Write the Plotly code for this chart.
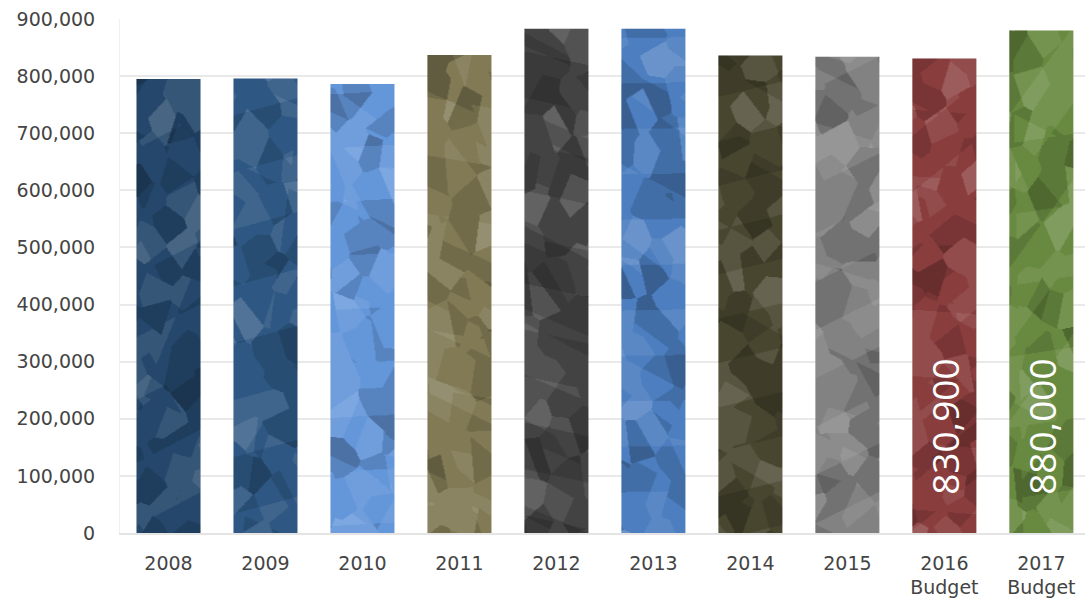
import base64
import struct
import zlib

import numpy as np
import plotly.graph_objects as go

# ---- data -------------------------------------------------------------
years = ["2008", "2009", "2010", "2011", "2012", "2013", "2014", "2015",
         "2016<br>Budget", "2017<br>Budget"]
totals = [795000, 796000, 786000, 837000, 883000, 883000, 836000, 834000,
          830900, 880000]
bar_colors = ["#24476b", "#2e5883", "#6496da", "#817a55", "#434343",
              "#4c7ec0", "#48462f", "#828282", "#8a3d3d", "#688a40"]
labelled = {"2016<br>Budget": "830,900", "2017<br>Budget": "880,000"}

BAR_WIDTH = 0.66


# ---- crumpled paper overlay --------------------------------------------
def png_data_uri(rgba):
    """Encode an RGBA uint8 array as a PNG data URI."""
    h, w, _ = rgba.shape
    raw = b"".join(b"\x00" + rgba[r].tobytes() for r in range(h))

    def chunk(tag, data):
        body = tag + data
        return struct.pack(">I", len(data)) + body + struct.pack(">I", zlib.crc32(body) & 0xFFFFFFFF)

    png = (b"\x89PNG\r\n\x1a\n"
           + chunk(b"IHDR", struct.pack(">IIBBBBB", w, h, 8, 6, 0, 0, 0))
           + chunk(b"IDAT", zlib.compress(raw, 9))
           + chunk(b"IEND", b""))
    return "data:image/png;base64," + base64.b64encode(png).decode()


def halton(index, base):
    f, r = 1.0, 0.0
    while index > 0:
        f /= base
        r += f * (index % base)
        index //= base
    return r


# long fold creases: (angle, period in px, phase, weight)
FOLDS = [
    (0.35, 140, 0.10, 1.0),
    (2.05, 170, 0.70, 1.0),
    (1.05, 120, 0.45, 0.8),
    (2.70, 90, 0.20, 0.6),
]
LIGHT = np.array([-0.55, -0.83])
CELL_SHADES = [-1.0, 0.5, -0.5, 1.0, 0.0, -0.5, 0.5]


def crumple(bar_index, w=64, h=500):
    yy, xx = np.mgrid[0:h, 0:w].astype(float)

    # facets: nearest of a low-discrepancy set of seed points (stretched sideways)
    n_pts = 70
    start = 1 + bar_index * n_pts
    px = np.array([halton(start + k, 2) for k in range(n_pts)]) * (w + 40) - 20
    py = np.array([halton(start + k, 3) for k in range(n_pts)]) * (h + 40) - 20
    d = (xx[..., None] - px) ** 2 * 1.6 + (yy[..., None] - py) ** 2
    cell = np.argmin(d, axis=-1)
    facet = np.array([CELL_SHADES[(k * 3 + bar_index) % len(CELL_SHADES)]
                      for k in range(n_pts)])[cell]

    # creases
    gx = np.zeros_like(xx)
    gy = np.zeros_like(yy)
    for k, (ang, per, ph, wt) in enumerate(FOLDS):
        ang2 = ang + 0.23 * bar_index * ((k % 3) - 1)
        c, s = np.cos(ang2), np.sin(ang2)
        z = (xx * c + yy * s) / per + ph + 0.41 * bar_index * (k + 1)
        slope = np.where((z - np.floor(z)) < 0.5, 1.0, -1.0) * wt / per
        gx += slope * c
        gy += slope * s
    fold = gx * LIGHT[0] + gy * LIGHT[1]
    fold = fold / np.abs(fold).max()

    shade = 0.65 * facet + 0.45 * fold
    q = np.clip(np.round(shade * 2) / 2, -1, 1)
    rgba = np.zeros((h, w, 4), dtype=np.uint8)
    light = q > 0
    rgba[light, :3] = 255
    rgba[light, 3] = (q[light] * 42).astype(np.uint8)
    rgba[~light, 3] = (-q[~light] * 62).astype(np.uint8)
    return png_data_uri(rgba)


# ---- figure -----------------------------------------------------------
fig = go.Figure(
    go.Bar(
        x=years,
        y=totals,
        width=BAR_WIDTH,
        marker=dict(color=bar_colors, line=dict(width=0)),
        hoverinfo="x+y",
    )
)

# textures are placed by category index so numeric-looking names stay on the axis
images = []
for i, val in enumerate(totals):
    images.append(dict(
        source=crumple(i),
        xref="x", yref="y",
        x=i, y=val,
        sizex=BAR_WIDTH, sizey=val,
        xanchor="center", yanchor="top",
        sizing="stretch", layer="above", opacity=1,
    ))

annotations = []
for cat, text in labelled.items():
    annotations.append(dict(
        x=cat, y=0, xref="x", yref="y",
        text=text, showarrow=False, textangle=-90,
        yanchor="bottom", xanchor="center", yshift=36,
        font=dict(family="Open Sans", size=37, color="white"),
    ))

fig.update_layout(
    width=1085, height=598,
    margin=dict(l=120, r=0, t=19, b=65, pad=0),
    paper_bgcolor="white", plot_bgcolor="white",
    showlegend=False,
    images=images,
    annotations=annotations,
    font=dict(family="DejaVu Sans", color="#444444"),
)

fig.update_xaxes(
    type="category",
    range=[-0.5, 9.45],
    showgrid=False,
    showline=True, linecolor="#e4e4e4", linewidth=1.5,
    ticks="", ticklabelstandoff=12,
    tickfont=dict(family="DejaVu Sans", size=19, color="#444444"),
)
fig.update_yaxes(
    range=[0, 900000],
    tick0=0, dtick=100000,
    tickformat=",d",
    showgrid=True, gridcolor="#e9e9e9", gridwidth=1.5,
    zeroline=False,
    showline=True, linecolor="#f0f0f0", linewidth=1,
    ticks="", ticklabelstandoff=20,
    tickfont=dict(family="DejaVu Sans", size=19, color="#444444"),
)

fig.write_html("out.html")
